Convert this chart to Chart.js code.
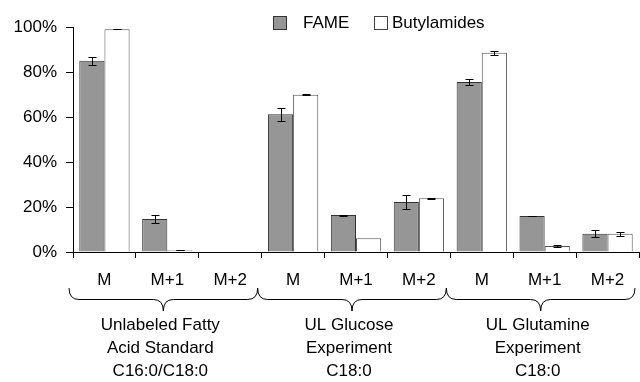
<!DOCTYPE html>
<html>
<head>
<meta charset="utf-8">
<script src="https://cdn.jsdelivr.net/npm/chart.js@4/dist/chart.umd.min.js"></script>
<style>
  html, body { margin: 0; padding: 0; background: #ffffff; }
  #wrap { width: 640px; height: 382px; position: relative; }
</style>
</head>
<body>
<div id="wrap"><canvas id="chart" width="640" height="382"></canvas></div>
<script>
// Isotopologue labels for each bar pair
const categories = ["M", "M+1", "M+2", "M", "M+1", "M+2", "M", "M+1", "M+2"];

// Experiment groups (each spans three categories)
const groupLabels = [
  ["Unlabeled Fatty", "Acid Standard", "C16:0/C18:0"],
  ["UL Glucose", "Experiment", "C18:0"],
  ["UL Glutamine", "Experiment", "C18:0"]
];

// Relative abundance (%) and standard deviations
const fameValues = [85.0, 14.7, 0.2, 61.2, 16.4, 22.2, 75.6, 16.0, 8.1];
const fameErrors = [1.7, 1.7, 0, 3.0, 0.2, 3.1, 1.4, 0.2, 1.5];
const butylValues = [99.0, 0.8, 0.1, 69.9, 6.1, 23.9, 88.6, 2.7, 8.1];
const butylErrors = [0.1, 0.1, 0, 0.3, 0, 0.3, 0.9, 0.3, 0.8];

const yTicks = [0, 20, 40, 60, 80, 100];

const FONT = '"Liberation Sans", Arial, Helvetica, sans-serif';

// Error bars drawn on top of each bar
const errorBars = {
  id: 'errorBars',
  afterDatasetsDraw(chart) {
    const ctx = chart.ctx;
    const y = chart.scales.y;
    ctx.save();
    ctx.strokeStyle = '#000';
    ctx.lineWidth = 1;
    chart.data.datasets.forEach((ds, i) => {
      const meta = chart.getDatasetMeta(i);
      meta.data.forEach((bar, j) => {
        const e = ds.errors[j];
        if (!e) return;
        const v = ds.data[j];
        const x = Math.round(bar.x) + 0.5;
        const top = Math.round(y.getPixelForValue(v + e)) + 0.5;
        const bot = Math.round(y.getPixelForValue(v - e)) + 0.5;
        ctx.beginPath();
        ctx.moveTo(x, top); ctx.lineTo(x, bot);
        ctx.moveTo(x - 4, top); ctx.lineTo(x + 4, top);
        ctx.moveTo(x - 4, bot); ctx.lineTo(x + 4, bot);
        ctx.stroke();
      });
    });
    ctx.restore();
  }
};

// Braces under each experiment group, with the group captions
const groupBraces = {
  id: 'groupBraces',
  afterDraw(chart) {
    const ctx = chart.ctx;
    const x = chart.scales.x;
    const half = (x.getPixelForValue(1) - x.getPixelForValue(0)) / 2;
    const yTop = 288, yMid = 299.5, yTip = 311, r = 10;
    ctx.save();
    ctx.strokeStyle = '#000';
    ctx.lineWidth = 1;
    groupLabels.forEach((lines, g) => {
      const L = x.getPixelForValue(g * 3) - half - 4;
      const R = x.getPixelForValue(g * 3 + 2) + half - 4;
      const C = (L + R) / 2;
      ctx.beginPath();
      ctx.moveTo(L, yTop);
      ctx.quadraticCurveTo(L, yMid, L + r, yMid);
      ctx.lineTo(C - r, yMid);
      ctx.quadraticCurveTo(C, yMid, C, yTip);
      ctx.quadraticCurveTo(C, yMid, C + r, yMid);
      ctx.lineTo(R - r, yMid);
      ctx.quadraticCurveTo(R, yMid, R, yTop);
      ctx.stroke();

      ctx.fillStyle = '#000';
      ctx.font = '17px ' + FONT;
      ctx.textAlign = 'center';
      ctx.textBaseline = 'middle';
      lines.forEach((t, k) => ctx.fillText(t, C - 3, 325 + k * 23));
    });
    ctx.restore();
  }
};

// Legend boxes at the top of the plot
const topLegend = {
  id: 'topLegend',
  afterDraw(chart) {
    const ctx = chart.ctx;
    ctx.save();
    ctx.lineWidth = 1;
    ctx.font = '17px ' + FONT;
    ctx.textBaseline = 'middle';
    ctx.textAlign = 'left';
    ctx.fillStyle = '#969696';
    ctx.fillRect(273.5, 16.5, 13, 13);
    ctx.strokeStyle = '#333';
    ctx.strokeRect(273.5, 16.5, 13, 13);
    ctx.fillStyle = '#000';
    ctx.fillText(chart.data.datasets[0].label, 303, 23);
    ctx.fillStyle = '#fff';
    ctx.fillRect(374.5, 16.5, 13, 13);
    ctx.strokeStyle = '#444';
    ctx.strokeRect(374.5, 16.5, 13, 13);
    ctx.fillStyle = '#000';
    ctx.fillText(chart.data.datasets[1].label, 392, 23);
    ctx.restore();
  }
};

new Chart(document.getElementById('chart'), {
  type: 'bar',
  data: {
    labels: categories,
    datasets: [
      {
        label: 'FAME',
        data: fameValues,
        errors: fameErrors,
        backgroundColor: '#969696',
        borderColor: '#333333',
        borderWidth: 1,
        categoryPercentage: 0.8,
        barPercentage: 1.0
      },
      {
        label: 'Butylamides',
        data: butylValues,
        errors: butylErrors,
        backgroundColor: '#ffffff',
        borderColor: '#555555',
        borderWidth: 1,
        categoryPercentage: 0.8,
        barPercentage: 1.0
      }
    ]
  },
  options: {
    responsive: false,
    animation: false,
    devicePixelRatio: 1,
    layout: { padding: { top: 27, right: 1, bottom: 0, left: 0 } },
    plugins: {
      legend: { display: false },
      tooltip: { enabled: false }
    },
    scales: {
      x: {
        afterFit(scale) { scale.height = 130; },
        border: { display: true, color: '#000', width: 1 },
        grid: {
          offset: true,
          drawOnChartArea: false,
          drawTicks: true,
          tickLength: 6,
          color: '#000'
        },
        ticks: {
          color: '#000',
          font: { family: FONT, size: 17 },
          padding: 12,
          maxRotation: 0,
          autoSkip: false
        }
      },
      y: {
        min: 0,
        max: 100,
        afterFit(scale) { scale.width = 73; },
        afterBuildTicks(scale) { scale.ticks = yTicks.map(v => ({ value: v })); },
        border: { display: true, color: '#000', width: 1 },
        grid: {
          drawOnChartArea: false,
          drawTicks: true,
          tickLength: 7,
          color: '#000'
        },
        ticks: {
          color: '#000',
          font: { family: FONT, size: 17 },
          padding: 9,
          callback: v => v + '%'
        }
      }
    }
  },
  plugins: [errorBars, groupBraces, topLegend]
});
</script>
</body>
</html>
